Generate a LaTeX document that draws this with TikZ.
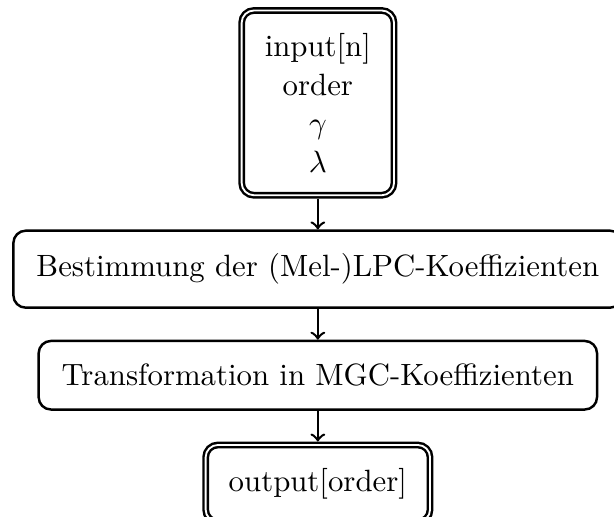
\documentclass[tikz,border=0pt]{standalone}
\usetikzlibrary{positioning}
\begin{document}
\begin{tikzpicture}[node distance={10pt}, box/.style = {draw, thick, rounded corners, inner sep=7.5pt}, io/.style = {box, double, outer sep=1.1pt}]
		\node[io, align=center] (in) {input[n]\\[0.5pt]order\\[0.5pt]$\gamma$\\[0.5pt]$\lambda$};
		\node[box] (lpc) [below=of in] {Bestimmung der (Mel-)LPC-Koeffizienten};
		\node[box] (mgc) [below=of lpc] {Transformation in MGC-Koeffizienten};
		\node[io] (out) [below=of mgc] {output[order]};
		\draw[->, thick] (in) -- (lpc);
		\draw[->, thick] (lpc) -- (mgc);
		\draw[->, thick] (mgc) -- (out);
		% page cuts the last box and the right end of the first step
		\pgfresetboundingbox
		\useasboundingbox ([xshift=-103.2pt, yshift=2.3pt]in.north) rectangle ++(199.35pt,-167.86pt);
	\end{tikzpicture}
\end{document}
